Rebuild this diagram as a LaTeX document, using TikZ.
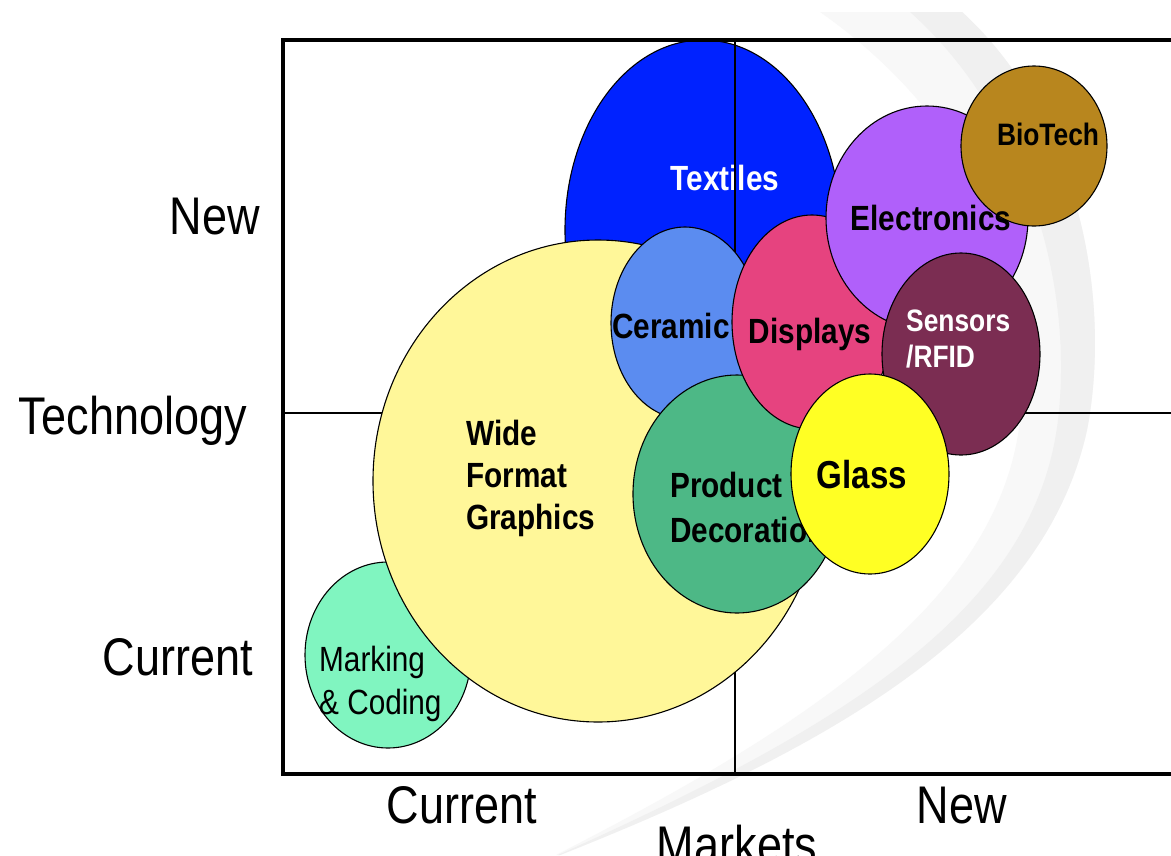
\documentclass[tikz,border=0pt]{standalone}
\usepackage{fontspec}
\setmainfont{Liberation Sans}
\newfontfamily\nfont[FakeStretch=0.85]{Liberation Sans}
\usetikzlibrary{shapes.geometric}
\definecolor{ctextiles}{RGB}{0,34,255}
\definecolor{cwide}{RGB}{255,247,153}
\definecolor{cceramic}{RGB}{91,140,240}
\definecolor{cproduct}{RGB}{77,184,134}
\definecolor{cdisplays}{RGB}{230,67,127}
\definecolor{celectronics}{RGB}{176,96,250}
\definecolor{cbiotech}{RGB}{184,134,30}
\definecolor{csensors}{RGB}{123,45,82}
\definecolor{cglass}{RGB}{255,255,36}
\definecolor{cmarking}{RGB}{128,245,192}
\definecolor{cswooshlight}{RGB}{248,248,248}
\definecolor{cswoosh}{RGB}{240,240,240}
\tikzset{
  bub/.style={ellipse, draw=black, line width=1.1pt, inner sep=0pt},
  lab/.style={font=\nfont\bfseries\fontsize{35}{42}\selectfont, inner sep=0pt, align=left},
  smalllab/.style={font=\nfont\bfseries\fontsize{31}{36}\selectfont, inner sep=0pt, align=left},
  axlab/.style={font=\nfont\fontsize{53}{60}\selectfont, inner sep=0pt},
  frameline/.style={line width=4pt, line cap=rect},
  midline/.style={line width=1.2pt},
}
\begin{document}
\begin{tikzpicture}[x=1pt,y=-1pt]
\useasboundingbox (0,0) rectangle (1171,855);
\fill[white] (0,0) rectangle (1171,855);
% background swoosh
\fill[cswooshlight] (820,12) -- (962,12) .. controls (1080,120) and (1112,300) .. (1087,430)
  .. controls (1045,620) and (850,740) .. (560,855) -- (556,855)
  .. controls (810,725) and (1000,600) .. (1020,420) .. controls (1040,260) and (960,110) .. (820,12) -- cycle;
\fill[cswoosh] (910,12) -- (962,12) .. controls (1080,120) and (1112,300) .. (1087,430)
  .. controls (1045,620) and (850,740) .. (560,855) -- (558,855)
  .. controls (840,728) and (1035,612) .. (1058,420) .. controls (1075,275) and (1020,110) .. (910,12) -- cycle;

% Textiles
\node[bub, fill=ctextiles, minimum width=276pt, minimum height=380pt] (textiles) at (703,230) {};
\node[lab, text=white, anchor=base] (ltextiles) at (725,190) {Textiles};

% frame and quadrant lines
\coordinate (ftr) at (1171,40);
\coordinate (ftl) at (283,40);
\coordinate (fbl) at (283,774);
\coordinate (fbr) at (1171,774);
\coordinate (vtop) at (735,40);
\coordinate (vbot) at (735,774);
\coordinate (hl) at (283,413);
\coordinate (hr) at (1171,413);
\draw[midline] (vtop) -- (vbot);
\draw[midline] (hl) -- (hr);
\draw[frameline] (ftr) -- (ftl) -- (fbl) -- (fbr);

% Marking & Coding
\node[bub, fill=cmarking, minimum width=166pt, minimum height=186pt] (marking) at (388,655) {};
\node[font=\nfont\fontsize{35}{43}\selectfont, inner sep=0pt, align=left, anchor=west] (lmarking) at (319,684) {Marking\\\& Coding};

% Wide Format Graphics
\node[bub, fill=cwide, minimum width=450pt, minimum height=482pt] (wide) at (598,481) {};
\node[lab, anchor=west] (lwide) at (466,478) {Wide\\Format\\Graphics};

% Ceramic
\node[bub, fill=cceramic, minimum width=148pt, minimum height=192pt] (ceramic) at (685,323) {};
\node[lab, anchor=base] (lceramic) at (671,338) {Ceramic};

% Product Decoration
\node[bub, fill=cproduct, minimum width=208pt, minimum height=238pt] (product) at (737,494) {};
\node[lab, anchor=west, font=\nfont\bfseries\fontsize{35}{45}\selectfont] (lproduct) at (670,507) {Product\\Decoration};

% Displays
\node[bub, fill=cdisplays, minimum width=160pt, minimum height=214pt] (displays) at (812,322) {};
\node[lab, anchor=base] (ldisplays) at (810,343) {Displays};

% Electronics
\node[bub, fill=celectronics, minimum width=202pt, minimum height=224pt] (electronics) at (927,218) {};

% Sensors / RFID
\node[bub, fill=csensors, minimum width=158pt, minimum height=202pt] (sensors) at (961,354) {};
\node[smalllab, text=white, anchor=west] (lsensors) at (906,339) {Sensors\\/RFID};

% Glass
\node[bub, fill=cglass, minimum width=158pt, minimum height=200pt] (glass) at (870,474) {};
\node[lab, anchor=base, font=\nfont\bfseries\fontsize{39}{45}\selectfont] (lglass) at (862,488) {Glass};

% BioTech
\node[bub, fill=cbiotech, minimum width=146pt, minimum height=160pt] (biotech) at (1034,146) {};
\node[smalllab, anchor=base] (lbiotech) at (1048,145) {BioTech};

% Electronics label (drawn over BioTech)
\node[lab, anchor=base] (lelectronics) at (931,230) {Electronics};

% axis labels
\node[axlab, anchor=base east] (tnew) at (260,234) {New};
\node[axlab, anchor=base east] (ttech) at (247,434) {Technology};
\node[axlab, anchor=base east] (tcur) at (253,675) {Current};
\node[axlab, anchor=base] (mcur) at (462,823) {Current};
\node[axlab, anchor=base] (mnew) at (962,823) {New};
\node[axlab, anchor=base] (mmarkets) at (737,863) {Markets};
\end{tikzpicture}
\end{document}
